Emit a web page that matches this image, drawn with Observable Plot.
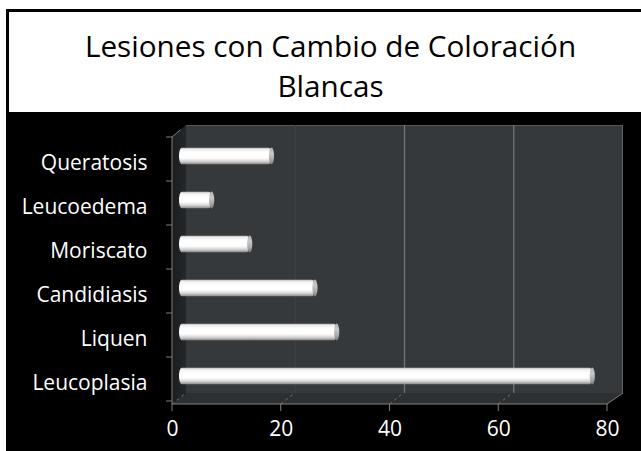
<!DOCTYPE html>
<html>
<head>
<meta charset="utf-8">
<script src="https://cdn.jsdelivr.net/npm/d3@7"></script>
<script src="https://cdn.jsdelivr.net/npm/@observablehq/plot@0.6"></script>
<style>
  html, body { margin: 0; padding: 0; }
  body { width: 641px; height: 451px; overflow: hidden; position: relative; background: #fff; font-family: "Open Sans", sans-serif; }
  #frame { position: absolute; left: 6px; top: 9px; width: 680px; height: 480px; border: 3px solid #000; background: #000; box-sizing: border-box; }
  #titlebox { position: absolute; left: 9px; top: 12px; width: 680px; height: 100px; background: #fff; }
  #title { position: absolute; left: 0; top: 25.5px; width: 661px; text-align: center; font-size: 29.7px; line-height: 40px; color: #000; }
  #chart { position: absolute; left: 0; top: 112px; }
</style>
</head>
<body>
<div id="frame"></div>
<div id="titlebox"></div>
<div id="title">Lesiones con Cambio de Coloración<br>Blancas</div>
<div id="chart"></div>
<script>
const categories = ["Leucoplasia", "Liquen", "Candidiasis", "Moriscato", "Leucoedema", "Queratosis"];
const values = [76, 29, 25, 13, 6, 17];
const xTicks = [0, 20, 40, 60, 80];
const gridTicks = [20, 40, 60];

const rows = categories.map((c, i) => ({cat: c, value: values[i]}));

const W = 641, H = 339;
const DX = 14, DXR = 16, DY = 12, DYB = 11;
const BAR_DX = 7, BAR_DY = -5, BAR_H = 17;

function bw(y) { return y.bandwidth ? y.bandwidth() : 44.5; }

function walls(index, scales, vals, dims) {
  const x = scales.x, y = scales.y;
  const top = dims.marginTop, bottom = dims.height - dims.marginBottom;
  const x0 = x(0), x1 = x(80);
  const g = d3.create("svg:g");
  const defs = g.append("defs");
  const cyl = defs.append("linearGradient").attr("id", "cyl").attr("x1", 0).attr("y1", 0).attr("x2", 0).attr("y2", 1);
  [[0, "#bdbdbd"], [0.12, "#f2f2f2"], [0.3, "#ffffff"], [0.62, "#ffffff"], [0.82, "#d4d4d4"], [1, "#8a8a8a"]]
    .forEach(([o, c]) => cyl.append("stop").attr("offset", o).attr("stop-color", c));
  const cap = defs.append("linearGradient").attr("id", "capg").attr("x1", 0).attr("y1", 0).attr("x2", 0).attr("y2", 1);
  [[0, "#b0b0b0"], [0.35, "#c9c9c9"], [0.7, "#a9a9a9"], [1, "#7a7a7a"]]
    .forEach(([o, c]) => cap.append("stop").attr("offset", o).attr("stop-color", c));
  const lw = defs.append("linearGradient").attr("id", "lwall").attr("x1", 0).attr("y1", 0).attr("x2", 1).attr("y2", 0);
  [[0, "#1a1c1e"], [1, "#25282b"]].forEach(([o, c]) => lw.append("stop").attr("offset", o).attr("stop-color", c));

  g.append("polygon")
    .attr("points", [[x0 + DX, top - DY], [x1 + DXR, top - DY], [x1 + DXR, bottom - DYB], [x0 + DX, bottom - DYB]].join(" "))
    .attr("fill", "#36393c");
  g.append("line").attr("x1", x0 + DX).attr("x2", x1 + DXR).attr("y1", top - DY + 0.5).attr("y2", top - DY + 0.5).attr("stroke", "#55585b");
  g.append("line").attr("x1", x1 + DXR - 0.5).attr("x2", x1 + DXR - 0.5).attr("y1", top - DY).attr("y2", bottom - DYB).attr("stroke", "#606366");
  for (const t of gridTicks) {
    const gx = x(t) + DX + (DXR - DX) * t / 80;
    g.append("line").attr("x1", gx).attr("x2", gx).attr("y1", top - DY).attr("y2", bottom - DYB)
      .attr("stroke", t === 20 ? "#404346" : "#75787b").attr("stroke-width", 1.2);
  }
  g.append("polygon")
    .attr("points", [[x0, top], [x0 + DX, top - DY], [x0 + DX, bottom - DYB], [x0, bottom]].join(" "))
    .attr("fill", "url(#lwall)");
  g.append("polygon")
    .attr("points", [[x0, bottom], [x0 + DX, bottom - DYB], [x1 + DXR, bottom - DYB], [x1, bottom]].join(" "))
    .attr("fill", "#2d3033");
  for (const t of xTicks.slice(0, 4)) {
    g.append("line").attr("x1", x(t)).attr("y1", bottom).attr("x2", x(t) + DX).attr("y2", bottom - DYB)
      .attr("stroke", "#6e6e6e").attr("stroke-dasharray", "3,3");
  }
  g.append("line").attr("x1", x0).attr("x2", x1).attr("y1", bottom).attr("y2", bottom).attr("stroke", "#808080");
  g.append("line").attr("x1", x1).attr("y1", bottom).attr("x2", x1 + DXR).attr("y2", bottom - DYB).attr("stroke", "#808080");
  g.append("line").attr("x1", x0).attr("x2", x0).attr("y1", top).attr("y2", bottom).attr("stroke", "#808080");
  g.append("line").attr("x1", x0).attr("y1", top).attr("x2", x0 + DX * 0.6).attr("y2", top - DY * 0.6).attr("stroke", "#808080");
  const b = bw(y);
  for (let i = 0; i <= categories.length; i++) {
    const ty = top + i * b;
    g.append("line").attr("x1", x0 - 6).attr("x2", x0).attr("y1", ty).attr("y2", ty).attr("stroke", "#808080");
  }
  for (const t of xTicks) {
    g.append("line").attr("x1", x(t)).attr("x2", x(t)).attr("y1", bottom).attr("y2", bottom + 7).attr("stroke", "#808080");
  }
  return g.node();
}

function caps(index, scales, vals, dims) {
  const x = scales.x, y = scales.y;
  const b = bw(y);
  const g = d3.create("svg:g");
  for (const r of rows) {
    g.append("ellipse")
      .attr("cx", x(r.value) + BAR_DX)
      .attr("cy", y(r.cat) + b / 2 + BAR_DY)
      .attr("rx", 2.6).attr("ry", BAR_H / 2)
      .attr("fill", "url(#capg)");
  }
  return g.node();
}

const bandInset = (44.5 - BAR_H) / 2;

const plot = Plot.plot({
  width: W,
  height: H,
  marginLeft: 172,
  marginRight: 34,
  marginTop: 25,
  marginBottom: 47,
  style: {background: "transparent", fontFamily: "Open Sans", color: "white", overflow: "visible"},
  x: {domain: [0, 80], axis: null},
  y: {type: "band", domain: categories.slice().reverse(), padding: 0, axis: null},
  marks: [
    walls,
    Plot.barX(rows, {
      x1: () => 0, x2: "value", y: "cat",
      fill: "url(#cyl)",
      insetTop: bandInset, insetBottom: bandInset,
      dx: BAR_DX, dy: BAR_DY,
      rx: 2.6, ry: BAR_H / 2
    }),
    caps,
    Plot.text(categories, {
      y: d => d, frameAnchor: "left", dx: -25, textAnchor: "end",
      fill: "white", fontSize: 21, fontFamily: "Open Sans", dy: 1.3
    }),
    Plot.text(xTicks, {
      x: d => d, frameAnchor: "bottom", textAnchor: "middle",
      fill: "white", fontSize: 21, fontFamily: "Open Sans", dy: 31
    })
  ]
});
document.getElementById("chart").appendChild(plot);
</script>
</body>
</html>
